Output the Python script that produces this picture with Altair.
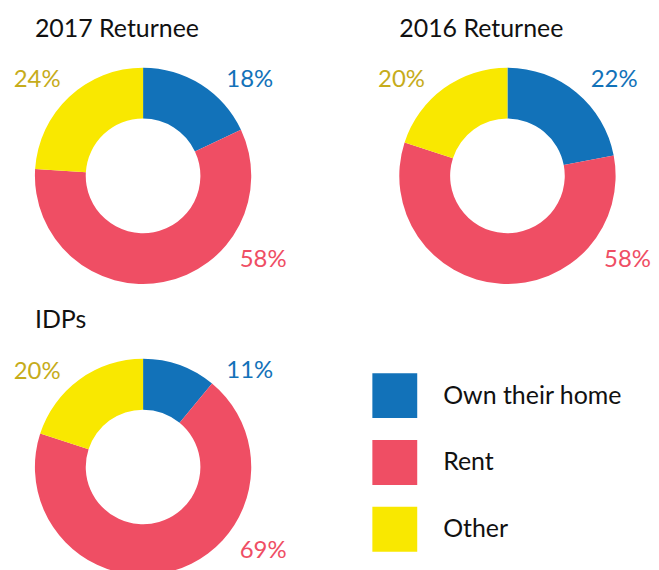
import math
import altair as alt
import pandas as pd

# ---- data ----
groups = ["2017 Returnee", "2016 Returnee", "IDPs"]
categories = ["Own their home", "Rent", "Other"]
own = [18, 22, 11]
rent = [58, 58, 69]
other = [24, 20, 20]

# ---- style ----
colors = ["#1272B9", "#EF4E64", "#F9E800"]
label_colors = ["#1272B9", "#EF4E64", "#C6AC1B"]
label_angle_deg = [48, 125, 312]   # where each category's label sits around a donut
label_radius = [144, 147, 143]

FONT = "Lato"
W, H = 271, 218
OUTER, INNER = 108.5, 57.5

color_scale = alt.Scale(domain=categories, range=colors)


def donut(i):
    vals = [own[i], rent[i], other[i]]
    df = pd.DataFrame({
        "category": categories,
        "value": vals,
        "order": list(range(len(categories))),
        "label": [f"{v}%" for v in vals],
        "ang": [math.radians(a) for a in label_angle_deg],
        "rad": label_radius,
        "lcolor": label_colors,
    })
    base = alt.Chart(df)
    arc = base.mark_arc(outerRadius=OUTER, innerRadius=INNER).encode(
        theta=alt.Theta("value:Q", stack=True),
        color=alt.Color("category:N", scale=color_scale, legend=None),
        order=alt.Order("order:Q"),
    )
    text = base.mark_text(font=FONT, fontSize=24, align="center", baseline="middle").encode(
        theta=alt.Theta("ang:Q", scale=None, stack=False),
        radius=alt.Radius("rad:Q", scale=None),
        text=alt.Text("label:N"),
        color=alt.Color("lcolor:N", scale=None),
    )
    return alt.layer(arc, text).resolve_scale(
        theta="independent", radius="independent", color="independent"
    ).properties(
        width=W,
        height=H,
        title=alt.TitleParams(
            groups[i], anchor="start", frame="group", dx=27, fontSize=25,
            font=FONT, fontWeight="normal", color="#111111",
            baseline="alphabetic", offset=5,
        ),
    )


leg_df = pd.DataFrame({"category": categories})
legend_panel = alt.Chart(leg_df).mark_square(opacity=0).encode(
    color=alt.Color(
        "category:N",
        scale=color_scale,
        legend=alt.Legend(
            title=None, orient="none", legendX=0, legendY=15,
            symbolType="square", symbolSize=2025, symbolOpacity=1,
            symbolStrokeWidth=0, labelFont=FONT, labelFontSize=25,
            labelColor="#111111", labelOffset=26, rowPadding=22,
            padding=0, labelLimit=400,
        ),
    )
).properties(width=W, height=H)

chart = alt.concat(
    donut(0), donut(1), donut(2), legend_panel,
    columns=2,
    spacing=alt.RowColnumber(row=74, column=94.5),
    bounds="flush",
).resolve_scale(
    color="independent", theta="independent", radius="independent"
).resolve_legend(
    color="independent"
).properties(
    padding={"left": 0, "top": 8.5, "right": 0, "bottom": 0}
).configure_view(stroke=None)

chart.save("out.html", embed_options={"renderer": "svg", "actions": False})
